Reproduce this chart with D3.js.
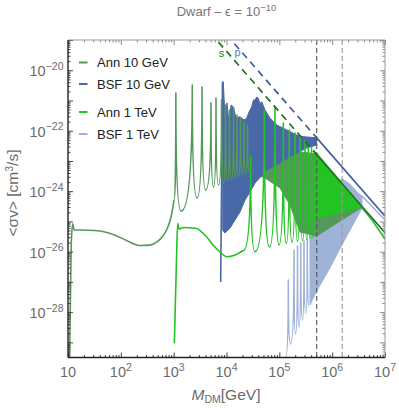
<!DOCTYPE html>
<html>
<head>
<meta charset="utf-8">
<script src="https://cdn.jsdelivr.net/npm/d3@7"></script>
<style>
  body { margin: 0; background: #fff; }
  text { font-family: "Liberation Sans", Arial, sans-serif; }
</style>
</head>
<body>
<div id="chart"></div>
<script>
// ---- data (mass in GeV, <sigma v> in cm^3/s) ----
const xMajor = [1e1, 1e2, 1e3, 1e4, 1e5, 1e6, 1e7];
const xLabelExp = ["", "2", "3", "4", "5", "6", "7"];
const yLabelled = [1e-28, 1e-26, 1e-24, 1e-22, 1e-20];
const yLabelExp = ["−28", "−26", "−24", "−22", "−20"];
const vLines = [5.1e5, 1.55e6];
const seriesNames = ["Ann 10 GeV", "BSF 10 GeV", "Ann 1 TeV", "BSF 1 TeV"];

// Ann 10 GeV
const ann10Base = [[10.7, 3.3e-30], [11.1, 2.5e-28], [11.6, 2.45e-26], [12.3, 8.3e-26], [13.0, 5.2e-26],
  [16.9, 5.2e-26], [32, 5.0e-26], [50, 4.5e-26], [78, 3.5e-26], [131, 2.3e-26], [231, 1.6e-26],
  [357, 1.65e-26], [484, 2.1e-26], [629, 3.3e-26], [748, 5.6e-26], [891, 1.4e-25], [1015, 5.1e-25]];
const ann10Peaks = [[1.1e3, 1.77e-21], [2.25e3, 3.25e-21], [3.44e3, 2.79e-21], [5.09e3, 8.3e-22],
  [6.33e3, 1.21e-21], [8.05e3, 1.04e-21], [9.57e3, 7.1e-22], [1.14e4, 4.84e-22], [1.36e4, 5.64e-22],
  [1.58e4, 3.31e-22], [1.84e4, 2.64e-22], [2.14e4, 1.94e-22], [2.5e4, 1.55e-22]];
const ann10Valleys = [[1.38e3, 2.2e-25], [2.77e3, 6.0e-25], [4.01e3, 1.1e-24], [5.68e3, 1.38e-24],
  [7.06e3, 1.6e-24], [8.78e3, 1.87e-24], [1.04e4, 2.17e-24], [1.24e4, 2.34e-24], [1.45e4, 2.74e-24],
  [1.69e4, 3.19e-24], [1.97e4, 3.44e-24], [2.29e4, 4.0e-24], [2.67e4, 4.3e-24]];
const ann10BandUpper = [[2.67e4, 1.55e-22], [4.3e4, 7.2e-23], [1.03e5, 2.69e-23], [2.46e5, 1.98e-23],
  [5.1e5, 1.7e-23], [3.37e6, 3.78e-25]];
const ann10BandLower = [[2.67e4, 4.3e-24], [5.36e4, 2.74e-24], [1.03e5, 1.28e-24], [1.59e5, 3.5e-25],
  [2.46e5, 4.48e-26], [5.1e5, 3.3e-26], [1.41e6, 1.03e-25], [3.52e6, 2.78e-25]];

// BSF 10 GeV
const bsf10Start = [[7.76e3, 9.9e-28], [8.4e3, 4.08e-21]];
const bsf10BandUpper = [[8.4e3, 4.08e-21], [8.71e3, 4.18e-21], [9.38e3, 2.26e-22], [1.02e4, 8.3e-22],
  [1.12e4, 1.55e-22], [1.22e4, 7.1e-22], [1.35e4, 6.1e-22], [1.51e4, 2.64e-22], [1.8e4, 2.91e-22],
  [2.14e4, 2.26e-22], [2.41e4, 2.58e-22], [2.67e4, 4.16e-22], [3.0e4, 6.2e-22], [3.24e4, 1.04e-21],
  [3.47e4, 1.04e-21], [3.73e4, 1.3e-21], [4.0e4, 1.18e-21], [4.31e4, 7.66e-22], [4.64e4, 9.1e-22],
  [5.36e4, 4.84e-22], [6.67e4, 2.58e-22], [8.92e4, 1.55e-22], [1.38e5, 1.06e-22], [2.13e5, 7.2e-23],
  [2.85e5, 6.34e-23], [5.1e5, 5.8e-23]];
const bsf10BandLower = [[8.5e3, 5.0e-26], [9.38e3, 4.15e-26], [1.17e4, 6.07e-26],
  [1.45e4, 1.12e-25], [1.8e4, 2.05e-25], [2.24e4, 5.1e-25], [2.79e4, 9.4e-25], [3.47e4, 1.87e-24],
  [5.77e4, 5.0e-24], [1.03e5, 8.6e-24], [1.84e5, 1.57e-23], [3.3e5, 2.69e-23], [5.1e5, 3.37e-23]];

// Ann 1 TeV
const ann1Base = [[1.03e3, 9.3e-30], [1.13e3, 5.3e-27], [1.19e3, 8.7e-26], [1.26e3, 5.6e-26],
  [1.52e3, 6.3e-26], [2.73e3, 5.85e-26], [3.15e3, 5.0e-26], [4.22e3, 3.05e-26], [5.56e3, 1.66e-26],
  [7.53e3, 9.75e-27], [1.01e4, 6.8e-27], [1.45e4, 7.8e-27], [2.08e4, 1.09e-26]];
const ann1Peaks = [[2.86e4, 1.38e-23], [5.2e4, 4.84e-22], [8.28e4, 6.08e-22], [1.19e5, 1.8e-22],
  [1.54e5, 1.06e-22], [1.98e5, 8.4e-23], [2.46e5, 6.34e-23], [3.06e5, 4.57e-23], [3.54e5, 3.37e-23],
  [4.07e5, 2.69e-23], [4.63e5, 2.13e-23]];
const ann1Valleys = [[3.47e4, 1.0e-26], [6.52e4, 1.43e-26], [9.86e4, 1.66e-26], [1.36e5, 1.89e-26],
  [1.74e5, 2.04e-26], [2.21e5, 2.17e-26], [2.75e5, 2.34e-26], [3.3e5, 2.53e-26], [3.81e5, 2.73e-26],
  [4.34e5, 2.94e-26], [5.1e5, 3.3e-26]];
const ann1BandUpper = [[5.1e5, 1.83e-23], [1.41e6, 2.26e-24], [3.37e6, 3.78e-25]];
const ann1BandLower = [[5.1e5, 1.3e-25], [1.41e6, 1.9e-25], [3.37e6, 3.0e-25]];
const ann1Tail = [[3.37e6, 3.37e-25], [5.68e6, 1.12e-25], [1e7, 2.62e-26]];

// BSF 1 TeV
const bsf1Base = [[1.31e5, 3.3e-30]];
const bsf1Peaks = [[1.48e5, 1.16e-27], [1.9e5, 1.14e-26], [2.21e5, 1.54e-26], [2.54e5, 1.94e-26],
  [2.93e5, 2.25e-26], [3.39e5, 2.62e-26]];
const bsf1Valleys = [[1.63e5, 8.9e-30], [2.02e5, 1.9e-29], [2.36e5, 3.2e-29], [2.75e5, 5.5e-29],
  [3.16e5, 9.4e-29], [3.65e5, 1.48e-28]];
const bsf1BandUpper = [[3.81e5, 2.83e-26], [5.1e5, 1.3e-25], [7.33e5, 5.5e-25], [1.13e6, 1.6e-24],
  [1.54e6, 2.6e-24], [2.18e6, 1.7e-24], [3.08e6, 8.7e-25], [3.67e6, 6.9e-25]];
const bsf1BandLower = [[3.81e5, 1.73e-28], [5.1e5, 5.0e-28], [9.08e5, 2.9e-27], [1.52e6, 1.66e-26],
  [2.18e6, 5.2e-26], [3.67e6, 2.78e-25]];
const bsf1Tail = [[3.67e6, 6.9e-25], [1e7, 1.12e-25]];

// s-wave and p-wave bounds
const sDashed = [[5e3, 1.7e-19], [5.1e5, 1.6e-23]];
const sSolid = [[5.1e5, 1.6e-23], [1e7, 4.2e-26]];
const pDashed = [[1e4, 1.5e-19], [5.1e5, 5.8e-23]];
const pSolid = [[5.1e5, 5.8e-23], [1e7, 1.5e-25]];

const colors = ["#55995a", "#4868a8", "#22c322", "#9fb2d8"];

// ---- chart ----
const width = 399, height = 408;
const plotL = 68, plotR = 385, plotT = 40, plotB = 357.5;

const svg = d3.select("#chart").append("svg")
  .attr("width", width)
  .attr("height", height);

const x = d3.scaleLog().domain([10, 1e7]).range([plotL, plotR]);
const y = d3.scaleLog().domain([3.16e-30, 1e-19]).range([plotB, plotT]);

svg.append("clipPath").attr("id", "plot")
  .append("rect")
  .attr("x", plotL).attr("y", plotT)
  .attr("width", plotR - plotL).attr("height", plotB - plotT);

const plot = svg.append("g").attr("clip-path", "url(#plot)");

const line = d3.line().x(d => x(d[0])).y(d => y(d[1]));
const smooth = d3.line().x(d => x(d[0])).y(d => y(d[1])).curve(d3.curveMonotoneX);

// smooth part then resonance spikes (sharp peak, rounded valley)
function trace(base, peaks, valleys) {
  let d = base.length > 1 ? smooth(base) : `M${x(base[0][0])},${y(base[0][1])}`;
  let py = y(base[base.length - 1][1]);
  peaks.forEach((p, i) => {
    const xp = x(p[0]), yp = y(p[1]);
    d += `Q${xp},${py} ${xp},${yp}`;
    if (valleys[i]) {
      const xv = x(valleys[i][0]), yv = y(valleys[i][1]);
      d += `Q${xp},${yv} ${xv},${yv}`;
      py = yv;
    }
  });
  return d;
}

function band(upper, lower) {
  return line(upper.concat(lower.slice().reverse())) + "Z";
}

function curve(d, color, w) {
  plot.append("path").attr("d", d)
    .attr("fill", "none").attr("stroke", color)
    .attr("stroke-width", w || 1.6)
    .attr("stroke-linejoin", "round");
}

function fill(d, color) {
  plot.append("path").attr("d", d)
    .attr("fill", color).attr("stroke", color).attr("stroke-width", 1);
}

// BSF 1 TeV
fill(band(bsf1BandUpper, bsf1BandLower), colors[3]);
curve(trace(bsf1Base, bsf1Peaks, bsf1Valleys), colors[3]);
curve(line(bsf1Tail), colors[3]);

// Ann 10 GeV band, BSF 10 GeV, Ann 10 GeV spikes
fill(band(ann10BandUpper, ann10BandLower), colors[0]);
fill(band(bsf10BandUpper, bsf10BandLower), colors[1]);
curve(line(bsf10Start), colors[1]);
curve(trace(ann10Base, ann10Peaks, ann10Valleys), colors[0]);

// Ann 1 TeV
curve(trace(ann1Base, ann1Peaks, ann1Valleys), colors[2]);
fill(band(ann1BandUpper, ann1BandLower), colors[2]);
curve(line(ann1Tail), colors[2]);

// vertical markers
vLines.forEach((v, i) => {
  plot.append("line")
    .attr("x1", x(v)).attr("x2", x(v))
    .attr("y1", plotT).attr("y2", plotB)
    .attr("stroke", i === 0 ? "#555" : "#9a9a9a")
    .attr("stroke-width", 1.1)
    .attr("stroke-dasharray", "5,3");
});

// bounds
plot.append("path").attr("d", line(sDashed)).attr("fill", "none")
  .attr("stroke", "#1f721f").attr("stroke-width", 1.7).attr("stroke-dasharray", "7,5");
plot.append("path").attr("d", line(pDashed)).attr("fill", "none")
  .attr("stroke", "#3d5c9c").attr("stroke-width", 1.7).attr("stroke-dasharray", "7,5");
curve(line(sSolid), "#2a6e2a", 1.6);
curve(line(pSolid), "#3d5c9c", 1.6);

svg.append("text").attr("x", 221.5).attr("y", 57).attr("text-anchor", "middle")
  .attr("font-size", 11).attr("fill", "#267a26").text("s");
svg.append("text").attr("x", 237.5).attr("y", 55.5).attr("text-anchor", "middle")
  .attr("font-size", 11).attr("fill", "#5b78b5").text("p");

// ---- frame and ticks ----
const xMinor = [];
xMajor.slice(0, -1).forEach(d => { for (let k = 2; k < 10; k++) xMinor.push(d * k); });
const yMajor = d3.range(-29, -18).map(e => Math.pow(10, e));
const yMinor = [4e-30, 5e-30, 6e-30, 7e-30, 8e-30, 9e-30];
yMajor.forEach(d => { for (let k = 2; k < 10; k++) if (d * k < 1e-19) yMinor.push(d * k); });

function ticks(axis, scale, majors, minors, pos, dark) {
  [[majors, 5], [minors, 2.5]].forEach(([vals, len]) => {
    const g = svg.append("g").attr("transform", pos)
      .call(axis(scale).tickValues(vals).tickSizeInner(-len).tickSizeOuter(0).tickFormat(""));
    g.select(".domain").remove();
    g.selectAll("line").attr("stroke", dark ? "#444" : "#8a8a8a");
  });
}

ticks(d3.axisBottom, x, xMajor, xMinor, `translate(0,${plotB})`, true);
ticks(d3.axisTop, x, xMajor, xMinor, `translate(0,${plotT})`, false);
ticks(d3.axisLeft, y, yMajor, yMinor, `translate(${plotL},0)`, true);
ticks(d3.axisRight, y, yMajor, yMinor, `translate(${plotR},0)`, false);

svg.append("line").attr("x1", plotL).attr("x2", plotR).attr("y1", plotT).attr("y2", plotT)
  .attr("stroke", "#999").attr("stroke-width", 1);
svg.append("line").attr("x1", plotR).attr("x2", plotR).attr("y1", plotT).attr("y2", plotB)
  .attr("stroke", "#999").attr("stroke-width", 1);
svg.append("line").attr("x1", plotL).attr("x2", plotR).attr("y1", plotB).attr("y2", plotB)
  .attr("stroke", "#222").attr("stroke-width", 1.4);
svg.append("line").attr("x1", plotL).attr("x2", plotL).attr("y1", plotT).attr("y2", plotB)
  .attr("stroke", "#222").attr("stroke-width", 1.4);

// tick labels
const labelColor = "#6b6b6b";
xMajor.forEach((v, i) => {
  const t = svg.append("text").attr("x", x(v)).attr("y", 377)
    .attr("text-anchor", "middle").attr("font-size", 14.5).attr("fill", labelColor);
  t.append("tspan").text("10");
  if (xLabelExp[i]) t.append("tspan").attr("dy", -6).attr("font-size", 10.5).text(xLabelExp[i]);
});
yLabelled.forEach((v, i) => {
  const t = svg.append("text").attr("x", 63.5).attr("y", y(v) + 6)
    .attr("text-anchor", "end").attr("font-size", 14.5).attr("fill", labelColor);
  t.append("tspan").text("10");
  t.append("tspan").attr("dy", -6.5).attr("font-size", 10.5).text(yLabelExp[i]);
});

// titles
const title = svg.append("text").attr("x", 226.5).attr("y", 16)
  .attr("text-anchor", "middle").attr("font-size", 13).attr("fill", "#777");
title.append("tspan").text("Dwarf – ϵ = 10");
title.append("tspan").attr("dy", -5).attr("font-size", 9.5).text("−10");

const xt = svg.append("text").attr("x", 226).attr("y", 400)
  .attr("text-anchor", "middle").attr("font-size", 15.5).attr("fill", labelColor);
xt.append("tspan").attr("font-style", "italic").text("M");
xt.append("tspan").attr("dy", 3).attr("font-size", 10.5).text("DM");
xt.append("tspan").attr("dy", -3).text("[GeV]");

const yt = svg.append("text").attr("transform", "translate(18,193) rotate(-90)")
  .attr("text-anchor", "middle").attr("font-size", 15.5).attr("fill", labelColor);
yt.append("tspan").text("<σv> [cm");
yt.append("tspan").attr("dy", -5).attr("font-size", 10.5).text("3");
yt.append("tspan").attr("dy", 5).text("/s]");

// legend
const legendY = [62.5, 84, 112, 134];
seriesNames.forEach((name, i) => {
  svg.append("line").attr("x1", 79).attr("x2", 87.5)
    .attr("y1", legendY[i]).attr("y2", legendY[i])
    .attr("stroke", colors[i]).attr("stroke-width", 2);
  svg.append("text").attr("x", 97).attr("y", legendY[i] + 4.5)
    .attr("font-size", 13).attr("fill", "#222").text(name);
});
</script>
</body>
</html>
